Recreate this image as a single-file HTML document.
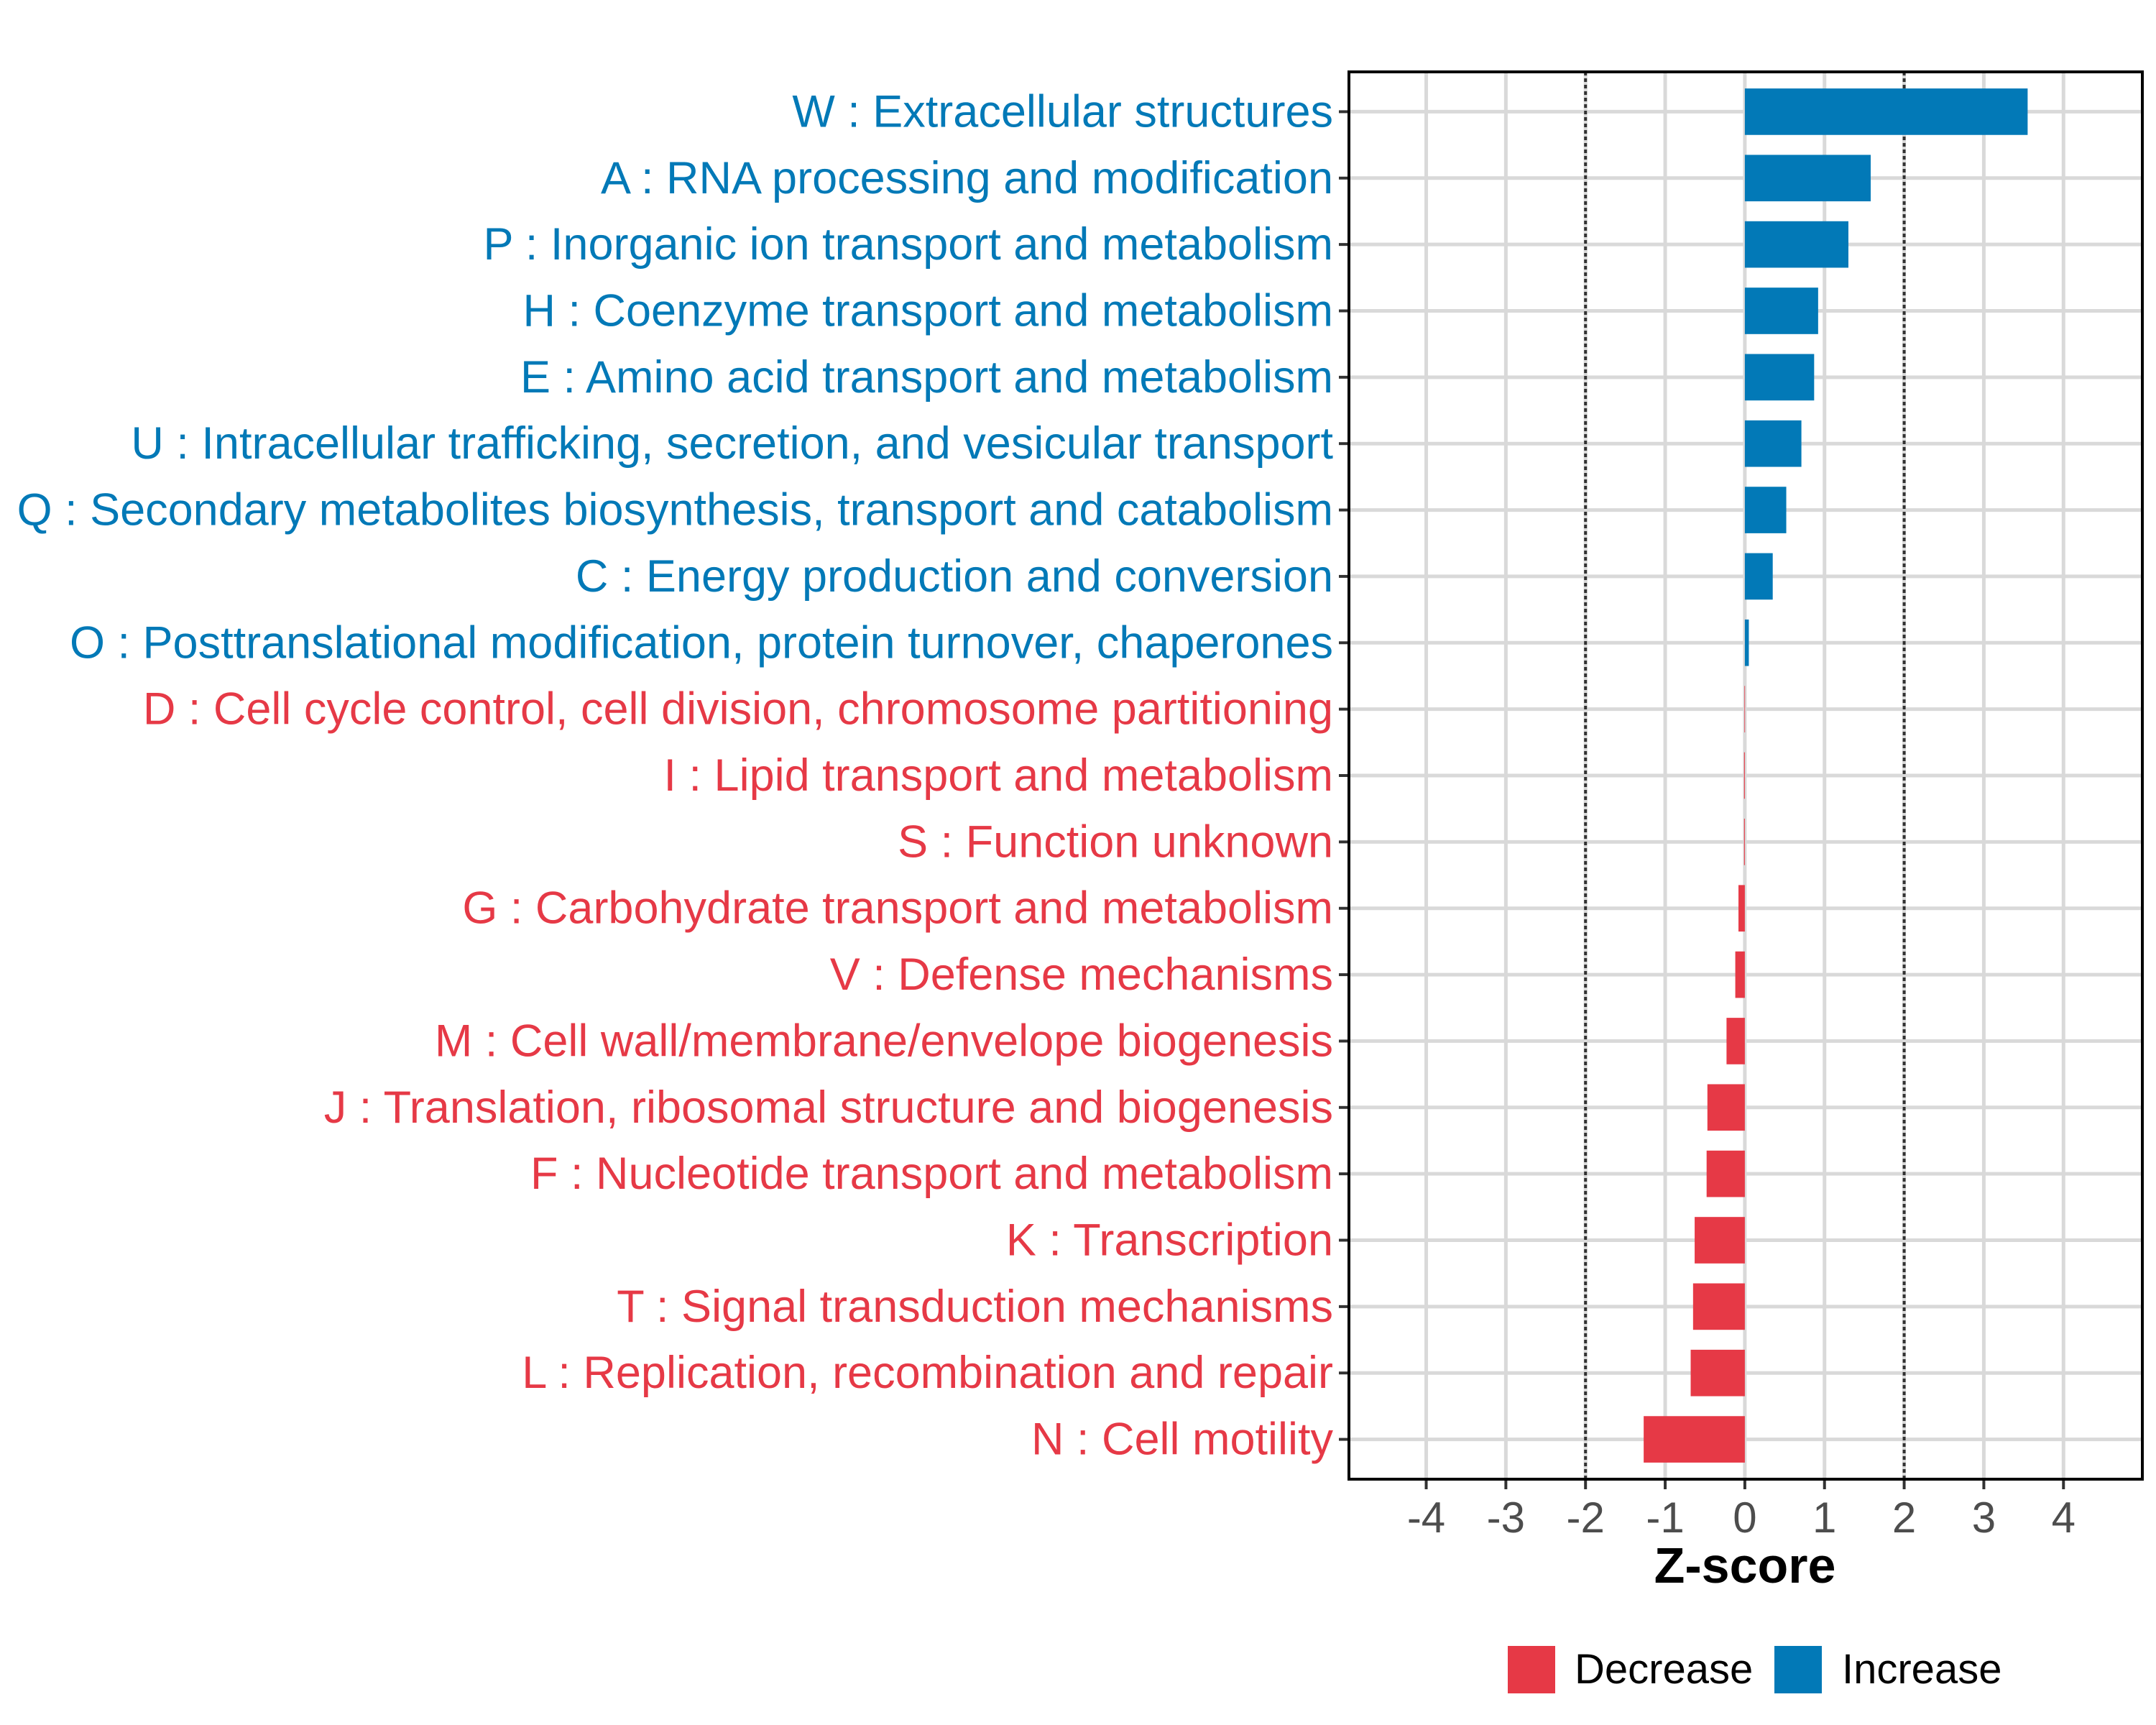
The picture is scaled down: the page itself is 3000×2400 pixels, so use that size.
<!DOCTYPE html>
<html><head><meta charset="utf-8"><style>
html,body{margin:0;padding:0;background:#fff;}
svg{display:block;font-family:"Liberation Sans",Arial,sans-serif;}
</style></head><body>
<svg id="chart" width="3000" height="2400" viewBox="0 0 3000 2400" xmlns="http://www.w3.org/2000/svg">
<rect width="3000" height="2400" fill="#fff"/>
<g id="grid"></g>
<g id="bars"></g>
<g id="labels"></g>
<g id="xaxis"></g>
<rect x="1877" y="100" width="1104" height="1958" fill="none" stroke="#000" stroke-width="4"/>
<text x="2428" y="2202" font-size="70" font-weight="bold" text-anchor="middle" fill="#000">Z-score</text>
<g>
<rect x="2098" y="2290" width="66" height="66" fill="#E63946"/>
<text x="2191" y="2342" font-size="58" fill="#000">Decrease</text>
<rect x="2469" y="2290" width="66" height="66" fill="#0279B7"/>
<text x="2563" y="2342" font-size="58" fill="#000">Increase</text>
</g>
</svg>
<script>
const categories = [
"W : Extracellular structures",
"A : RNA processing and modification",
"P : Inorganic ion transport and metabolism",
"H : Coenzyme transport and metabolism",
"E : Amino acid transport and metabolism",
"U : Intracellular trafficking, secretion, and vesicular transport",
"Q : Secondary metabolites biosynthesis, transport and catabolism",
"C : Energy production and conversion",
"O : Posttranslational modification, protein turnover, chaperones",
"D : Cell cycle control, cell division, chromosome partitioning",
"I : Lipid transport and metabolism",
"S : Function unknown",
"G : Carbohydrate transport and metabolism",
"V : Defense mechanisms",
"M : Cell wall/membrane/envelope biogenesis",
"J : Translation, ribosomal structure and biogenesis",
"F : Nucleotide transport and metabolism",
"K : Transcription",
"T : Signal transduction mechanisms",
"L : Replication, recombination and repair",
"N : Cell motility"];
const zscores = [3.55,1.58,1.30,0.92,0.87,0.71,0.52,0.35,0.05,-0.005,-0.01,-0.01,-0.08,-0.12,-0.23,-0.47,-0.48,-0.63,-0.65,-0.68,-1.27];
const xTicks = [-4,-3,-2,-1,0,1,2,3,4];
const xTickLabels = ["-4","-3","-2","-1","0","1","2","3","4"];
const thresholds = [-2,2];

const NS="http://www.w3.org/2000/svg";
const PL=1877,PR=2981,PT=100,PB=2058;
const XMIN=-4.97,XMAX=4.99;
function xs(v){return PL+(v-XMIN)/(XMAX-XMIN)*(PR-PL);}
const n=categories.length;
const step=(PB-PT)/(n+0.2);
function ys(i){return PT+step*0.6+i*step;}
function mk(tag,attrs,parent){const e=document.createElementNS(NS,tag);for(const k in attrs)e.setAttribute(k,attrs[k]);parent.appendChild(e);return e;}
const grid=document.getElementById('grid'),bars=document.getElementById('bars'),labels=document.getElementById('labels'),xaxis=document.getElementById('xaxis');
xTicks.forEach((t,k)=>{
  const l=mk('line',{x1:xs(t),x2:xs(t),y1:PT,y2:PB,stroke:'#d9d9d9','stroke-width':5},grid);
  
  
  const tk=mk('line',{x1:xs(t),x2:xs(t),y1:PB,y2:PB+14,stroke:'#333','stroke-width':4},xaxis);
  
  
  const tx=mk('text',{x:xs(t),y:PB+74,'font-size':60,'text-anchor':'middle',fill:'#4d4d4d'},xaxis);
  tx.textContent=xTickLabels[k];
  
  
});
categories.forEach((c,i)=>{
  const y=ys(i);
  const l=mk('line',{x1:PL,x2:PR,y1:y,y2:y,stroke:'#d9d9d9','stroke-width':5},grid);
  
  
});
thresholds.forEach(t=>{
  const l=mk('line',{x1:xs(t),x2:xs(t),y1:PT,y2:PB,stroke:'#333','stroke-width':4,'stroke-dasharray':'5 4'},grid);
  
  
});
const bh=step*0.7;
categories.forEach((c,i)=>{
  const v=zscores[i],y=ys(i);
  const col=v>=0?'#0279B7':'#E63946';
  const x0=xs(Math.min(0,v)),w=Math.max(Math.abs(xs(v)-xs(0)),0.8);
  const r=mk('rect',{x:x0,y:y-bh/2,width:w,height:bh,fill:col},bars);
  
  
  const tk=mk('line',{x1:PL-14,x2:PL,y1:y,y2:y,stroke:'#333','stroke-width':4},labels);
  
  
  const t=mk('text',{x:PL-22,y:y+21,'font-size':63,'text-anchor':'end',fill:col},labels);
  t.textContent=c;
  
  
});
</script>
</body></html>
